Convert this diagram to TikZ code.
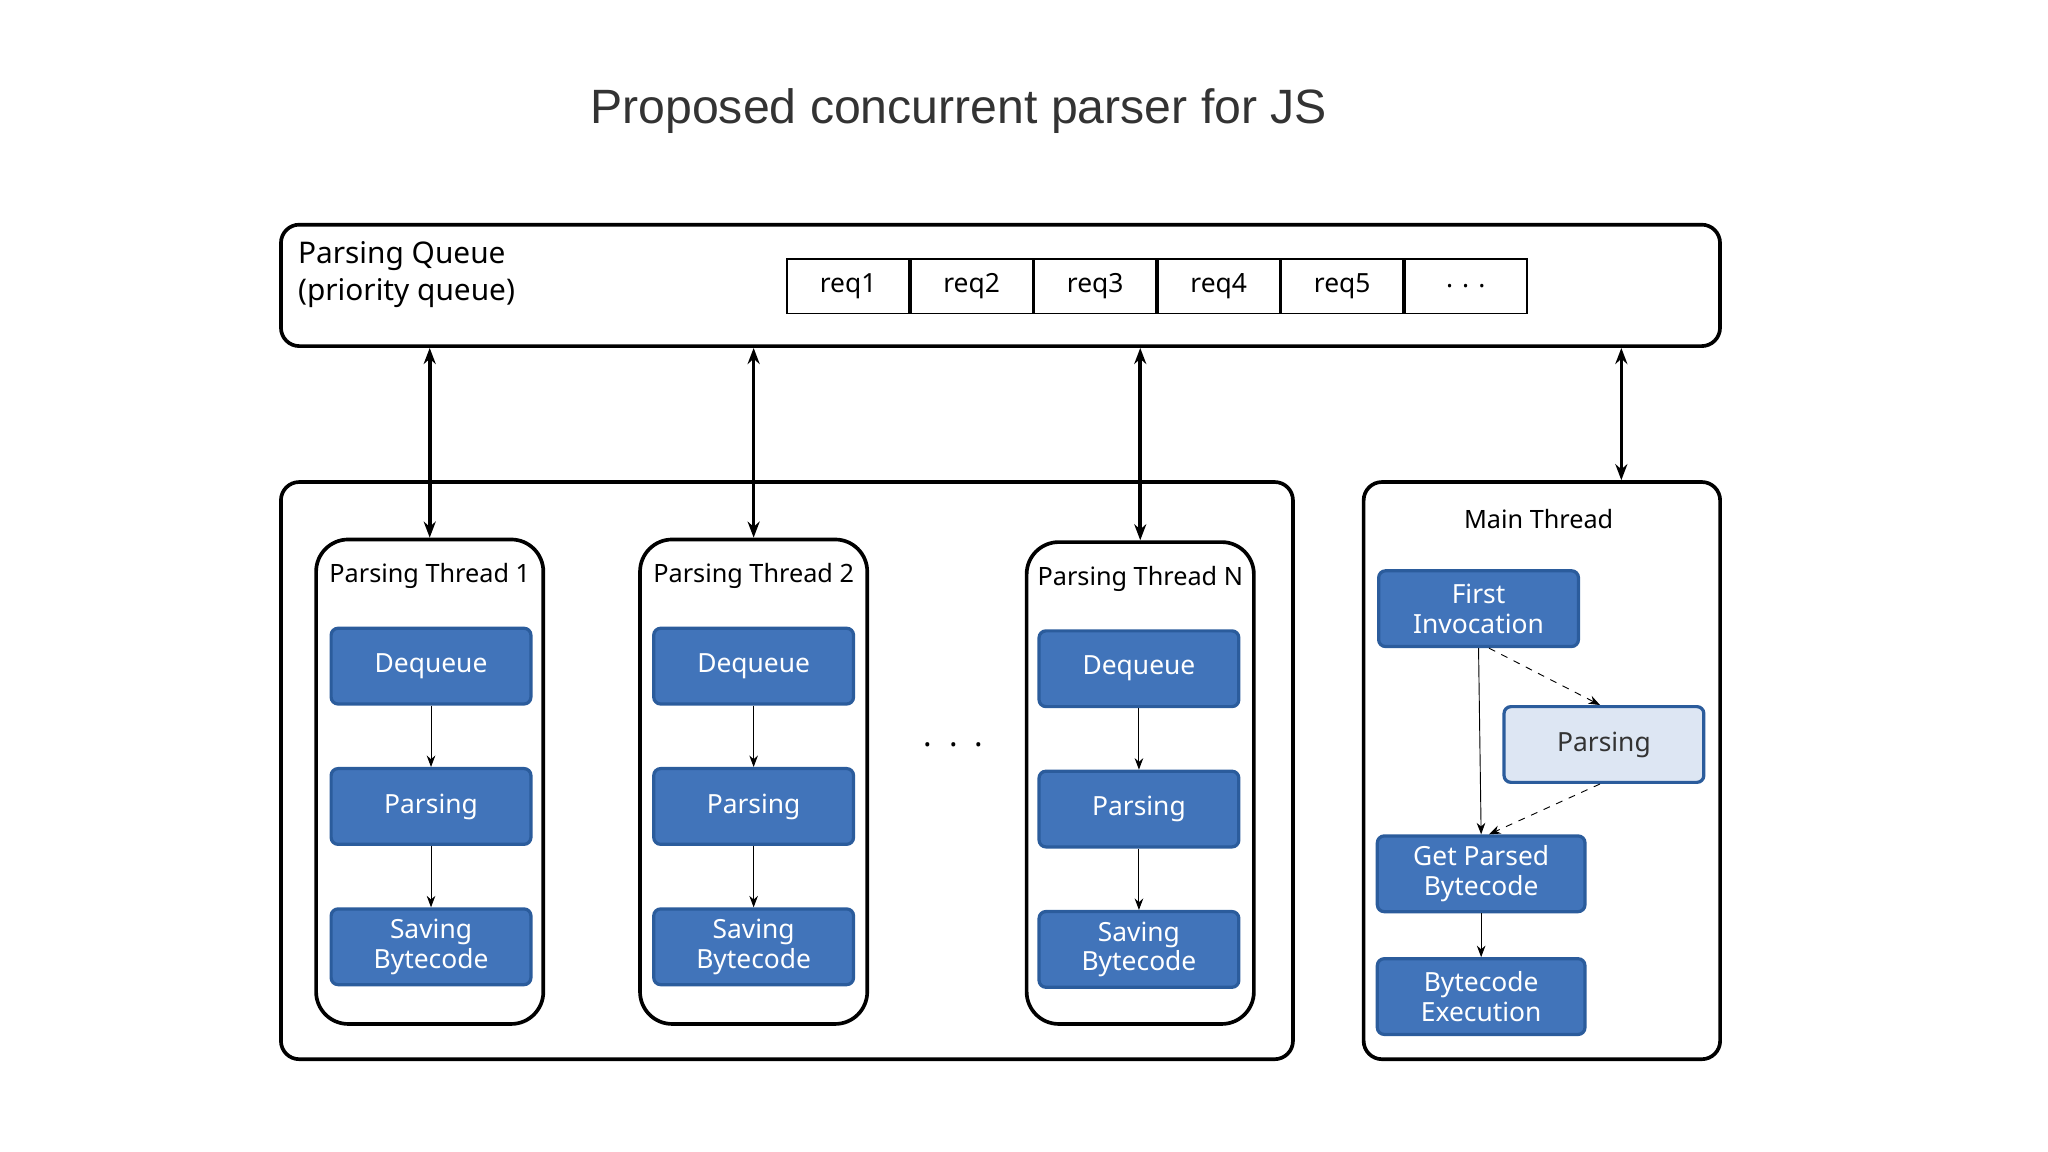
\documentclass[tikz,border=0pt]{standalone}
\usepackage{fontspec}
\setmainfont{Noto Sans}
\newfontfamily\titlefont{Liberation Sans}
\usetikzlibrary{positioning,arrows.meta}
\definecolor{boxblue}{HTML}{4174BA}
\definecolor{boxedge}{HTML}{2B5C9C}
\definecolor{lightblue}{HTML}{DDE6F3}
\begin{document}
\begin{tikzpicture}[x=0.02cm, y=-0.02cm, node distance={0.94cm}, font=\fontsize{11}{13}\selectfont,
    frame/.style = {draw, line width=1.6pt, rounded corners=8pt},
    task/.style = {draw=boxedge, line width=1.4pt, fill=boxblue, text=white, rounded corners=3pt, minimum width=3.06cm, minimum height=1.16cm, align=center, inner sep=1pt, font=\fontsize{11.5}{13}\selectfont},
    light/.style = {task, fill=lightblue, text=black!80},
    cell/.style = {draw, line width=0.8pt, minimum width=1.864cm, minimum height=0.84cm, anchor=west, font=\fontsize{11.5}{13}\selectfont},
    link/.style = {-{Stealth[length=5pt]}, thin},
    dual/.style = {{Stealth[length=7pt]}-{Stealth[length=7pt]}, line width=1.6pt}]
    \useasboundingbox (0,0) rectangle (1568,882);
    \node[font=\titlefont\fontsize{21}{25}\selectfont, text=black!80] (title) at (734,85) {Proposed concurrent parser for JS};

    % parsing queue
    \node[frame, minimum width=22.04cm, minimum height=1.86cm] (queue) at (766,218.5) {};
    \node[anchor=west, align=left, font=\fontsize{13}{16}\selectfont] (qlabel) at (222,210) {\textbf{Parsing Queue}\\(priority queue)};
    \node[cell] (r1) at (602,219) {req1};
    \node[cell] (r2) at (r1.east) {req2};
    \node[cell] (r3) at (r2.east) {req3};
    \node[cell] (r4) at (r3.east) {req4};
    \node[cell] (r5) at (r4.east) {req5};
    \node[cell] (r6) at (r5.east) {. . .};

    % worker threads
    \node[frame, minimum width=15.5cm, minimum height=8.84cm] (pool) at (602.5,590) {};
    \node[frame, rounded corners=14pt, minimum width=3.48cm, minimum height=7.42cm] (t1) at (329,598.5) {};
    \node[frame, rounded corners=14pt, minimum width=3.48cm, minimum height=7.42cm] (t2) at (577,598.5) {};
    \node[frame, rounded corners=14pt, minimum width=3.48cm, minimum height=7.38cm] (tn) at (873,599.5) {};
    \node (l1) at (329,441) {Parsing Thread 1};
    \node (l2) at (577,441) {Parsing Thread 2};
    \node (ln) at (873,443) {Parsing Thread N};
    \node[font=\fontsize{14}{16}\selectfont] (dots) at (730,570) {.\ \ .\ \ .};

    \node[task] (d1) at (330,510) {Dequeue};
    \node[task, below=of d1] (p1) {Parsing};
    \node[task, below=of p1] (s1) {Saving\\Bytecode};
    \node[task] (d2) at (577,510) {Dequeue};
    \node[task, below=of d2] (p2) {Parsing};
    \node[task, below=of p2] (s2) {Saving\\Bytecode};
    \node[task] (dn) at (872,512) {Dequeue};
    \node[task, below=of dn] (pn) {Parsing};
    \node[task, below=of pn] (sn) {Saving\\Bytecode};
    \draw[link] (d1) -- (p1);
    \draw[link] (p1) -- (s1);
    \draw[link] (d2) -- (p2);
    \draw[link] (p2) -- (s2);
    \draw[link] (dn) -- (pn);
    \draw[link] (pn) -- (sn);

    % main thread
    \node[frame, minimum width=5.46cm, minimum height=8.84cm] (main) at (1180.5,590) {};
    \node (lm) at (1178,397) {Main Thread};
    \node[task] (first) at (1132,466) {First\\Invocation};
    \node[light] (mparse) at (1228,570) {Parsing};
    \node[task, minimum width=3.18cm] (get) at (1134,669) {Get Parsed\\Bytecode};
    \node[task, minimum width=3.18cm] (exec) at (1134,763) {Bytecode\\Execution};
    \draw[link] (first.south) -- (get.north);
    \draw[link, dashed] ([xshift=0.16cm]first.south) -- ([xshift=-0.06cm]mparse.north);
    \draw[link, dashed] ([xshift=-0.06cm]mparse.south) -- ([xshift=0.12cm]get.north);
    \draw[link] (get) -- (exec);

    % queue access
    \draw[dual] (queue.south -| t1) -- (t1.north);
    \draw[dual] (queue.south -| t2) -- (t2.north);
    \draw[dual] (queue.south -| tn) -- (tn.north);
    \draw[dual] (queue.south -| lm.east) -- (main.north -| lm.east);
\end{tikzpicture}
\end{document}
